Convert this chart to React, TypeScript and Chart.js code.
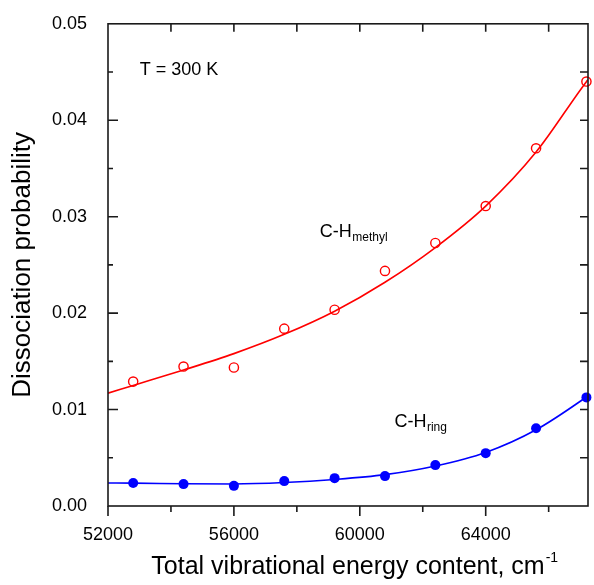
import React, { useEffect, useRef } from "react";
import { Chart, registerables } from "chart.js";

Chart.register(...registerables);

// ---- data ----
const energies = [52800, 54400, 56000, 57600, 59200, 60800, 62400, 64000, 65600, 67200];
const methylProb = [0.0129, 0.01446, 0.01436, 0.01839, 0.02035, 0.02438, 0.02727, 0.0311, 0.03709, 0.04401];
const ringProb = [0.00238, 0.00227, 0.00209, 0.00258, 0.00289, 0.0031, 0.00424, 0.00548, 0.00806, 0.01126];

const fitEnergies = [52000, 52800, 54400, 56000, 57600, 59200, 60800, 62400, 64000, 65600, 67200, 67250];
const methylFit = [0.0117, 0.0125, 0.0141, 0.0158, 0.0178, 0.0202, 0.0232, 0.0268, 0.0311, 0.0367, 0.044, 0.0442];
const ringFit = [0.00238, 0.00237, 0.00231, 0.00228, 0.00243, 0.00275, 0.00325, 0.00415, 0.00555, 0.0079, 0.0113, 0.01142];

const xMajorTicks = [52000, 56000, 60000, 64000];
const xMinorTicks = [54000, 58000, 62000, 66000];
const yMajorTicks = [0, 0.01, 0.02, 0.03, 0.04, 0.05];
const yMinorTicks = [0.005, 0.015, 0.025, 0.035, 0.045];

const xMin = 52000;
const xMax = 67250;
const yMin = 0;
const yMax = 0.05;

const FONT = "'Liberation Sans', Arial, sans-serif";
const X_TITLE_SIZE = 25;

const pts = (xs: number[], ys: number[]) => xs.map((x, i) => ({ x, y: ys[i] }));

const framePlugin = {
  id: "frameTicks",
  afterDatasetsDraw(chart: any) {
    const { ctx, chartArea, scales } = chart;
    const { left, right, top, bottom } = chartArea;
    const xs = scales.x;
    const ys = scales.y;
    ctx.save();
    ctx.strokeStyle = "#1a1a1a";
    ctx.lineWidth = 1.6;
    ctx.lineCap = "butt";
    ctx.strokeRect(left, top, right - left, bottom - top);
    ctx.beginPath();
    // bottom ticks (outward)
    xMajorTicks.forEach((v) => {
      const p = xs.getPixelForValue(v);
      ctx.moveTo(p, bottom);
      ctx.lineTo(p, bottom + 10);
    });
    xMinorTicks.forEach((v) => {
      const p = xs.getPixelForValue(v);
      ctx.moveTo(p, bottom);
      ctx.lineTo(p, bottom + 6);
    });
    // top ticks (inward)
    [...xMajorTicks, ...xMinorTicks].forEach((v) => {
      const p = xs.getPixelForValue(v);
      if (p <= left + 1) return;
      ctx.moveTo(p, top);
      ctx.lineTo(p, top + 8);
    });
    // left ticks (inward)
    yMajorTicks.forEach((v) => {
      const p = ys.getPixelForValue(v);
      if (p <= top + 1 || p >= bottom - 1) return;
      ctx.moveTo(left, p);
      ctx.lineTo(left + 10, p);
    });
    yMinorTicks.forEach((v) => {
      const p = ys.getPixelForValue(v);
      ctx.moveTo(left, p);
      ctx.lineTo(left + 5, p);
    });
    // right ticks (inward)
    [...yMajorTicks, ...yMinorTicks].forEach((v) => {
      const p = ys.getPixelForValue(v);
      if (p <= top + 1 || p >= bottom - 1) return;
      ctx.moveTo(right, p);
      ctx.lineTo(right - 8, p);
    });
    ctx.stroke();
    ctx.restore();
  },
  afterDraw(chart: any) {
    const { ctx, scales } = chart;
    const xs = scales.x;
    const ys = scales.y;
    ctx.save();
    ctx.fillStyle = "#000";
    ctx.textBaseline = "alphabetic";
    ctx.textAlign = "left";

    const label = (main: string, sub: string, xv: number, yv: number) => {
      const px = xs.getPixelForValue(xv);
      const py = ys.getPixelForValue(yv);
      ctx.font = `18px ${FONT}`;
      ctx.fillText(main, px, py);
      const w = ctx.measureText(main).width;
      if (sub) {
        ctx.font = `12px ${FONT}`;
        ctx.fillText(sub, px + w + 0.5, py + 4);
      }
    };
    label("T = 300 K", "", 53010, 0.04473);
    label("C-H", "methyl", 58730, 0.02789);
    label("C-H", "ring", 61100, 0.00816);

    // superscript for x-axis title
    const tOpts = xs.options.title;
    ctx.font = `${X_TITLE_SIZE}px ${FONT}`;
    const w = ctx.measureText(tOpts.text).width;
    const cx = (xs.left + xs.right) / 2;
    const cy = xs.bottom - (X_TITLE_SIZE * 1.2) / 2 - 3;
    ctx.font = `14px ${FONT}`;
    ctx.textBaseline = "middle";
    ctx.fillText("-1", cx + w / 2 + 1, cy - 9);
    ctx.restore();
  },
};

export default function App() {
  const ref = useRef<HTMLCanvasElement | null>(null);

  useEffect(() => {
    if (!ref.current) return;
    const chart = new Chart(ref.current, {
      type: "scatter",
      data: {
        datasets: [
          {
            label: "C-H ring",
            data: pts(energies, ringProb),
            showLine: false,
            pointStyle: "circle",
            pointRadius: 5,
            pointBackgroundColor: "#0000ff",
            pointBorderColor: "#0000ff",
            pointBorderWidth: 0,
            clip: false,
          } as any,
          {
            label: "C-H methyl",
            data: pts(energies, methylProb),
            showLine: false,
            pointStyle: "circle",
            pointRadius: 4.6,
            pointBackgroundColor: "rgba(255,255,255,0)",
            pointBorderColor: "#ff0000",
            pointBorderWidth: 1.4,
            clip: false,
          } as any,
          {
            label: "ring fit",
            data: pts(fitEnergies, ringFit),
            showLine: true,
            pointRadius: 0,
            borderColor: "#0000ff",
            borderWidth: 1.6,
            cubicInterpolationMode: "monotone",
            fill: false,
          } as any,
          {
            label: "methyl fit",
            data: pts(fitEnergies, methylFit),
            showLine: true,
            pointRadius: 0,
            borderColor: "#ff0000",
            borderWidth: 1.6,
            cubicInterpolationMode: "monotone",
            fill: false,
          } as any,
        ],
      },
      options: {
        animation: false,
        responsive: false,
        devicePixelRatio: 1,
        layout: { padding: { top: 22, right: 3, left: 0, bottom: 0 } },
        plugins: {
          legend: { display: false },
          tooltip: { enabled: false },
        },
        scales: {
          x: {
            type: "linear",
            min: xMin,
            max: xMax,
            grid: { display: false },
            border: { display: false },
            afterBuildTicks: (s: any) => {
              s.ticks = xMajorTicks.map((v) => ({ value: v }));
            },
            afterFit: (s: any) => {
              s.height = 79;
            },
            ticks: {
              autoSkip: false,
              maxRotation: 0,
              padding: 10,
              color: "#000",
              font: { family: FONT, size: 18 },
              callback: (v: any) => String(v),
            },
            title: {
              display: true,
              text: "Total vibrational energy content, cm",
              color: "#000",
              font: { family: FONT, size: X_TITLE_SIZE },
              padding: { top: 0, bottom: 3 },
            },
          },
          y: {
            type: "linear",
            min: yMin,
            max: yMax,
            grid: { display: false },
            border: { display: false },
            afterBuildTicks: (s: any) => {
              s.ticks = yMajorTicks.map((v) => ({ value: v }));
            },
            afterFit: (s: any) => {
              s.width = 108;
            },
            ticks: {
              padding: 13,
              color: "#000",
              font: { family: FONT, size: 18 },
              callback: (v: any) => Number(v).toFixed(2),
            },
            title: {
              display: true,
              text: "Dissociation probability",
              color: "#000",
              font: { family: FONT, size: 26 },
              padding: { top: 7, bottom: 0 },
            },
          },
        },
      },
      plugins: [framePlugin],
    } as any);
    return () => chart.destroy();
  }, []);

  return (
    <div style={{ position: "fixed", left: 0, top: 0, width: 594, height: 585, background: "#fff" }}>
      <canvas ref={ref} width={594} height={585} style={{ display: "block", width: 594, height: 585 }} />
    </div>
  );
}
